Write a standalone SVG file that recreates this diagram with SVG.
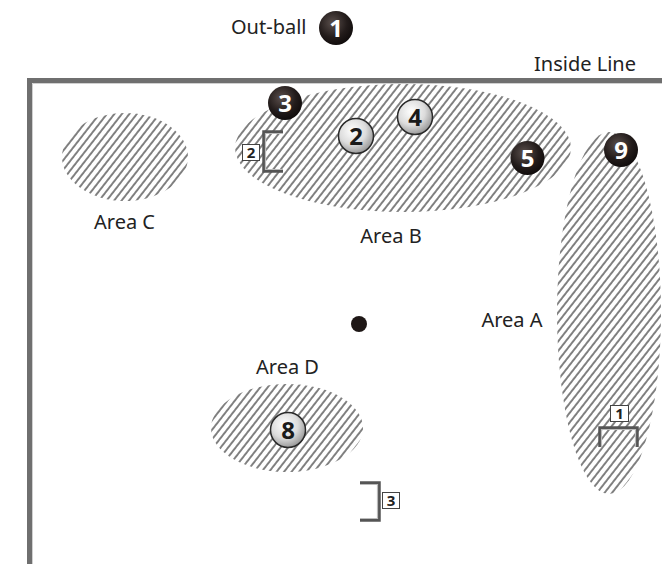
<svg xmlns="http://www.w3.org/2000/svg" width="662" height="564" viewBox="0 0 662 564">
  <defs>
    <style>
      .lbl { font-family: "Noto Sans", "Liberation Sans", sans-serif; font-size: 20px; fill: #222; }
      .num-d { font-family: "Noto Sans", "Liberation Sans", sans-serif; font-weight: bold; font-size: 24px; fill: #fff; text-anchor: middle; }
      .num-l { font-family: "Noto Sans", "Liberation Sans", sans-serif; font-weight: bold; font-size: 24px; fill: #1a1a1a; text-anchor: middle; }
      .goal { fill: none; stroke: #555; stroke-width: 3.5; stroke-linejoin: miter; }
      .goal-in { fill: none; stroke: #bbb; stroke-width: 1.2; }
      .tag { fill: #fff; stroke: #444; stroke-width: 1; }
      .tagt { font-family: "Noto Sans", "Liberation Sans", sans-serif; font-weight: bold; font-size: 15px; fill: #222; text-anchor: middle; }
      .area { fill: url(#hatch); }
      .ball-l { fill: url(#light); stroke: #2a2a2a; stroke-width: 1.5; }
      .ball-d { fill: url(#dark); }
    </style>
    <pattern id="hatch" patternUnits="userSpaceOnUse" width="5.9" height="10" patternTransform="rotate(38)">
      <line x1="1" y1="0" x2="1" y2="10" stroke="#1a1a1a" stroke-width="1.1"/>
    </pattern>
    <radialGradient id="dark" cx="0.4" cy="0.35" r="0.7">
      <stop offset="0" stop-color="#5a4f4c"/>
      <stop offset="0.6" stop-color="#231c1b"/>
      <stop offset="1" stop-color="#0e0a0a"/>
    </radialGradient>
    <radialGradient id="light" cx="0.4" cy="0.35" r="0.7">
      <stop offset="0" stop-color="#ffffff"/>
      <stop offset="0.55" stop-color="#dcdcdc"/>
      <stop offset="1" stop-color="#8f8f8f"/>
    </radialGradient>
  </defs>

  <!-- field boundary -->
  <g id="field">
    <path d="M29.5,564 V80.5 H662" fill="none" stroke="#6f6f6f" stroke-width="5"/>
    <path d="M32.5,564 V83.5 H662" fill="none" stroke="#d0d0d0" stroke-width="1"/>
  </g>

  <!-- hatched areas -->
  <g id="area-c"><ellipse class="area" cx="125" cy="157" rx="63" ry="44"/><text class="lbl" x="124.5" y="229" text-anchor="middle">Area C</text></g>
  <g id="area-b"><ellipse class="area" cx="403" cy="148" rx="168" ry="64"/><text class="lbl" x="391" y="243" text-anchor="middle">Area B</text></g>
  <g id="area-a"><ellipse class="area" cx="609" cy="313" rx="52" ry="181"/><text class="lbl" x="512" y="327" text-anchor="middle">Area A</text></g>
  <g id="area-d"><ellipse class="area" cx="287" cy="428" rx="76" ry="44"/><text class="lbl" x="287.5" y="374" text-anchor="middle">Area D</text></g>

  <g id="labels">
    <text class="lbl" x="231" y="34">Out-ball</text>
    <text class="lbl" x="534" y="71">Inside Line</text>
  </g>

  <!-- centre spot -->
  <g id="spot"><circle cx="359" cy="324" r="8" fill="#1e1716"/></g>

  <!-- goals -->
  <g id="goal-1">
    <path class="goal" d="M600,447 V428 H637 V447"/>
    <path class="goal-in" d="M601.5,447 V429.5 H635.5 V447"/>
    <rect class="tag" x="610.5" y="405.5" width="18" height="16"/>
    <text class="tagt" x="619.5" y="419">1</text>
  </g>
  <g id="goal-2">
    <path class="goal" d="M283,132 H264 V171 H283"/>
    <path class="goal-in" d="M283,133.5 H265.5 V169.5 H283"/>
    <rect class="tag" x="242.5" y="144.5" width="17" height="16"/>
    <text class="tagt" x="251" y="158">2</text>
  </g>
  <g id="goal-3">
    <path class="goal" d="M360,483 H379 V520 H360"/>
    <path class="goal-in" d="M360,484.5 H377.5 V518.5 H360"/>
    <rect class="tag" x="382.5" y="492.5" width="17" height="16"/>
    <text class="tagt" x="391" y="506">3</text>
  </g>

  <!-- balls -->
  <g id="ball-1"><circle class="ball-d" cx="336" cy="28" r="17"/><text class="num-d" x="336" y="36.5">1</text></g>
  <g id="ball-3"><circle class="ball-d" cx="285" cy="103" r="17"/><text class="num-d" x="285" y="111.5">3</text></g>
  <g id="ball-5"><circle class="ball-d" cx="527.5" cy="158" r="17"/><text class="num-d" x="527.5" y="166.5">5</text></g>
  <g id="ball-9"><circle class="ball-d" cx="621" cy="150" r="17"/><text class="num-d" x="621" y="158.5">9</text></g>
  <g id="ball-2"><circle class="ball-l" cx="356" cy="136" r="17.5"/><text class="num-l" x="356" y="144.5">2</text></g>
  <g id="ball-4"><circle class="ball-l" cx="415" cy="117" r="17.5"/><text class="num-l" x="415" y="125.5">4</text></g>
  <g id="ball-8"><circle class="ball-l" cx="288" cy="430" r="17.5"/><text class="num-l" x="288" y="438.5">8</text></g>
</svg>
